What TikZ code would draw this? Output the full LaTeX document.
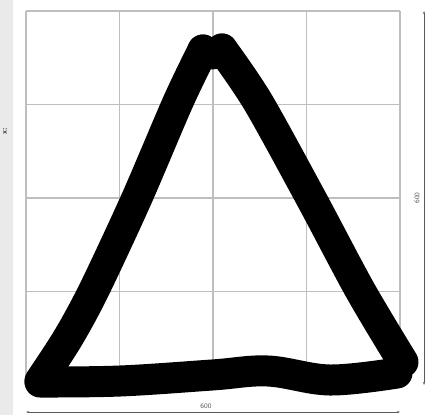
\documentclass[tikz,border=0pt]{standalone}
\usepackage{tikz}
\usetikzlibrary{arrows.meta}
\definecolor{gridgray}{RGB}{190,190,190}
\definecolor{stripgray}{RGB}{234,234,234}
\definecolor{dimgray}{RGB}{90,90,90}
\begin{document}
\begin{tikzpicture}[x=1pt, y=-1pt,
  gridline/.style={draw=gridgray, line width=1.6pt},
  stroke/.style={line width=31pt, line cap=round, line join=round, black},
  dimline/.style={draw=dimgray, line width=0.6pt, {Stealth[length=3pt,width=2pt]}-{Stealth[length=3pt,width=2pt]}},
  dimlabel/.style={font=\sffamily\fontsize{7}{8}\selectfont, text=dimgray, inner sep=1pt}]
\useasboundingbox (0,0) rectangle (427,415);
% left strip
\fill[stripgray] (0,0) rectangle (13,415);
% grid
\foreach \i in {0,...,4} {
  \draw[gridline] ({26+93.5*\i},11) -- ({26+93.5*\i},385);
  \draw[gridline] (26,{11+93.5*\i}) -- (400,{11+93.5*\i});
}
% hand drawn triangle
\draw[stroke] plot[smooth, tension=0.5] coordinates
  {(40,381) (68,338) (94,290) (136,200) (178,102) (203,50)};
\draw[stroke] plot[smooth, tension=0.6] coordinates
  {(203,50) (212,54) (222,49)};
\draw[stroke] plot[smooth, tension=0.5] coordinates
  {(222,49) (258,102) (312,200) (360,290) (403,362)};
\draw[stroke] plot[smooth, tension=0.6] coordinates
  {(40,382) (120,381) (212,375) (268,371) (330,380) (397,373)};
% dimensions
\coordinate (b1) at (26,412);
\coordinate (b2) at (400,412);
\coordinate (r1) at (424,11);
\coordinate (r2) at (424,385);
\draw[dimline] (b1) -- (b2);
\draw[dimline] (r1) -- (r2);
\node[dimlabel] (wlab) at (206,406) {600};
\node[dimlabel, rotate=90] (hlab) at (417,198) {600};
\node[dimlabel, font=\sffamily\bfseries\fontsize{8}{9}\selectfont, text=black!80, rotate=90] (xlab) at (5,131) {x:};
\end{tikzpicture}
\end{document}
